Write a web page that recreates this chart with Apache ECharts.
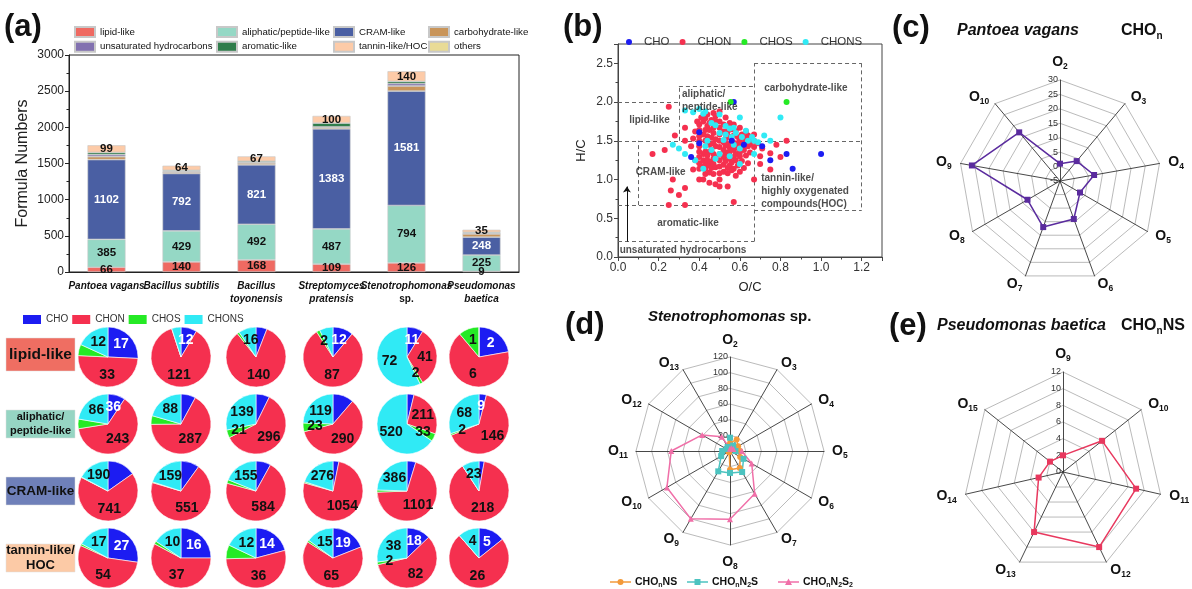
<!DOCTYPE html>
<html><head><meta charset="utf-8">
<script src="https://cdn.jsdelivr.net/npm/echarts@6/dist/echarts.min.js"></script>
<style>html,body{margin:0;padding:0;background:#fff}#c{width:1192px;height:589px}</style>
</head><body><div id="c"></div>
<script>
// ---------------- DATA ----------------
const categories = ['Pantoea vagans','Bacillus subtilis','Bacillus toyonensis','Streptomyces pratensis','Stenotrophomonas sp.','Pseudomonas baetica'];
const categoryLabels = ['{i|Pantoea vagans}','{i|Bacillus subtilis}','{i|Bacillus}\n{i|toyonensis}','{i|Streptomyces}\n{i|pratensis}','{i|Stenotrophomonas}\n{n|sp.}','{i|Pseudomonas}\n{i|baetica}'];
const lipid        = [66,140,168,109,126,9];
const aliphatic    = [385,429,492,487,794,225];
const cram         = [1102,792,821,1383,1581,248];
const carbohydrate = [40,20,25,20,70,45];
const others       = [5,3,5,4,4,2];
const unsaturated  = [25,10,6,5,30,8];
const aromatic     = [30,12,15,50,30,12];
const tannin       = [99,64,67,100,140,35];
const yTicks = {min:0, max:3000, interval:500};

const elementGroups = ['CHO','CHON','CHOS','CHONS'];
const pieRowNames = ['lipid-like','aliphatic/\npeptide-like','CRAM-like','tannin-like/\nHOC'];
const pieLipid     = [[17,33,4,12],[12,121,0,7],[10,140,2,16],[12,87,2,8],[11,41,2,72],[2,6,1,0]];
const pieAliphatic = [[36,243,20,86],[34,287,20,88],[36,296,21,139],[55,290,23,119],[30,211,33,520],[9,146,2,68]];
const pieCram      = [[168,741,3,190],[79,551,3,159],[66,584,16,155],[44,1054,9,276],[75,1101,19,386],[7,218,0,23]];
const pieTannin    = [[27,54,1,17],[16,37,1,10],[14,36,5,12],[19,65,1,15],[18,82,2,38],[5,26,0,4]];

// van Krevelen points [O/C, H/C]
const ptsCHO = [[0.57,2.0],[0.40,1.61],[0.40,1.47],[0.36,1.29],[0.71,1.43],[0.83,1.33],[0.75,1.25],[1.0,1.33],[0.86,1.14],[0.56,1.50],[0.62,1.45]];
const ptsCHOS = [[0.555,2.0],[0.83,2.0]];
const ptsCHONS = [[0.33,1.89],[0.37,1.87],[0.40,1.91],[0.42,1.85],[0.43,1.88],[0.46,1.73],[0.50,1.84],[0.48,1.70],[0.53,1.69],[0.55,1.66],[0.57,1.67],[0.58,1.60],[0.60,1.80],[0.61,1.55],[0.63,1.63],[0.64,1.50],[0.66,1.55],[0.67,1.50],[0.69,1.48],[0.72,1.57],[0.75,1.50],[0.80,1.80],[0.67,1.33],[0.60,1.20],[0.57,1.45],[0.53,1.58],[0.50,1.60],[0.52,1.51],[0.55,1.30],[0.50,1.33],[0.46,1.38],[0.43,1.43],[0.42,1.14],[0.38,1.25],[0.33,1.33],[0.30,1.40],[0.27,1.45],[0.44,1.50],[0.48,1.27],[0.60,1.40],[0.56,1.55]];
const ptsCHON = [[0.40,1.71],[0.40,1.64],[0.40,1.56],[0.40,1.50],[0.40,1.43],[0.40,1.36],[0.40,1.29],[0.40,1.21],[0.40,1.14],
[0.42,1.75],[0.42,1.58],[0.42,1.33],[0.42,1.25],[0.42,1.17],[0.43,1.79],[0.43,1.64],[0.43,1.50],[0.43,1.36],[0.43,1.21],[0.43,1.14],[0.43,1.07],
[0.44,1.69],[0.44,1.56],[0.44,1.31],[0.44,1.25],[0.45,1.73],[0.45,1.64],[0.45,1.45],[0.45,1.36],[0.45,1.18],[0.45,1.09],
[0.46,1.77],[0.46,1.54],[0.46,1.38],[0.46,1.23],[0.46,1.15],[0.47,1.67],[0.47,1.60],[0.47,1.47],[0.47,1.33],[0.47,1.27],[0.47,1.20],[0.47,1.07],
[0.48,1.76],[0.48,1.52],[0.48,1.43],[0.48,1.29],[0.48,1.16],[0.50,1.88],[0.50,1.75],[0.50,1.67],[0.50,1.58],[0.50,1.50],[0.50,1.42],[0.50,1.33],[0.50,1.25],[0.50,1.17],[0.50,1.08],[0.50,1.00],
[0.52,1.71],[0.52,1.62],[0.52,1.48],[0.52,1.38],[0.52,1.29],[0.52,1.19],[0.52,1.10],[0.53,1.80],[0.53,1.53],[0.53,1.44],[0.53,1.35],[0.53,1.24],
[0.54,1.69],[0.54,1.62],[0.54,1.46],[0.54,1.31],[0.54,1.15],[0.54,1.08],[0.55,1.73],[0.55,1.55],[0.55,1.41],[0.55,1.36],[0.55,1.27],[0.55,1.18],
[0.56,1.65],[0.56,1.50],[0.56,1.44],[0.56,1.22],[0.56,1.12],[0.57,1.71],[0.57,1.57],[0.57,1.38],[0.57,1.29],[0.57,1.14],[0.57,0.71],
[0.58,1.63],[0.58,1.47],[0.58,1.33],[0.58,1.25],[0.58,1.05],[0.59,1.55],[0.59,1.41],[0.59,1.18],[0.60,1.67],[0.60,1.50],[0.60,1.45],[0.60,1.35],[0.60,1.30],[0.60,1.10],
[0.61,1.58],[0.61,1.41],[0.61,1.24],[0.62,1.54],[0.62,1.47],[0.62,1.38],[0.62,1.15],[0.63,1.62],[0.63,1.50],[0.63,1.31],[0.64,1.57],[0.64,1.43],[0.64,1.21],
[0.65,1.53],[0.65,1.46],[0.65,1.35],[0.67,1.58],[0.67,1.50],[0.67,1.42],[0.67,1.00],[0.69,1.47],[0.70,1.30],[0.70,1.20],[0.71,1.40],[0.75,1.13],[0.75,1.34],[0.78,1.45],[0.80,1.29],[0.83,1.50],
[0.25,1.94],[0.17,1.33],[0.23,1.38],[0.28,1.57],[0.33,1.67],[0.33,1.50],[0.27,1.00],[0.26,0.86],[0.30,0.80],[0.33,0.89],[0.25,0.67],[0.33,0.67],[0.38,1.25],[0.37,1.13],[0.36,1.43],[0.38,1.62],[0.39,1.75],[0.37,1.53],[0.40,1.00],[0.42,1.00],[0.45,0.96],[0.48,0.94],[0.50,0.91],[0.54,0.91],[0.47,1.86],[0.44,1.84],[0.41,1.80],[0.48,1.82]];

// van Krevelen region boundaries (O/C, H/C)
const regionLines = [
 [[0,2.0],[0.3,2.0]],[[0.3,1.5],[0.3,2.2]],[[0.3,2.2],[0.67,2.2]],[[0.67,0.2],[0.67,2.5]],
 [[0.67,2.5],[1.2,2.5]],[[1.2,2.5],[1.2,0.6]],[[0.67,0.6],[1.2,0.6]],[[0,1.5],[1.2,1.5]],
 [[0.1,0.67],[0.1,1.5]],[[0,0.67],[0.67,0.67]],[[0,0.2],[0.67,0.2]]
];
const regionLabels = [
 {name:'lipid-like', value:[0.155,1.76], align:'center'},
 {name:'aliphatic/\npeptide-like', value:[0.315,2.02], align:'left'},
 {name:'carbohydrate-like', value:[0.925,2.18], align:'center'},
 {name:'CRAM-like', value:[0.21,1.10], align:'center'},
 {name:'tannin-like/\nhighly oxygenated\ncompounds(HOC)', value:[0.705,0.855], align:'left'},
 {name:'aromatic-like', value:[0.345,0.43], align:'center'},
 {name:'unsaturated hydrocarbons', value:[0.32,0.085], align:'center'}
];
const arrowLine = [[0.044,0.2],[0.044,0.91]];

const radarC_axes = ['O2','O3','O4','O5','O6','O7','O8','O9','O10'];
const radarC_CHOn = [1,4,7,3,9,12,8,26,17];
const radarD_axes = ['O2','O3','O4','O5','O6','O7','O8','O9','O10','O11','O12','O13'];
const radarD_CHOnNS   = [10,17,12,13,15,25,24,2,2,2,2,3];
const radarD_CHOnN2S  = [17,8,5,7,20,31,28,30,13,10,5,6];
const radarD_CHOnN2S2 = [3,4,5,15,32,63,87,100,93,75,41,21];
const radarE_axes = ['O9','O10','O11','O12','O13','O14','O15'];
const radarE_CHOnNS = [2,6,9,10,8,3,2];

// ---------------- STYLE ----------------
const FONT = '"Liberation Sans", Arial, sans-serif';
const barColors = {'lipid-like':'#EF6A62','aliphatic/peptide-like':'#95D8C5','CRAM-like':'#4A5FA3','carbohydrate-like':'#C9955A','others':'#E9DB96','unsaturated hydrocarbons':'#8271B0','aromatic-like':'#2F7D4B','tannin-like/HOC':'#FDCBA8'};
const grpColors = ['#1C1CF2','#F5304F','#25EA25','#30EAF5'];

const chart = echarts.init(document.getElementById('c'), null, {width:1192, height:589});

// bars
const barStack = [['lipid-like',lipid],['aliphatic/peptide-like',aliphatic],['CRAM-like',cram],['carbohydrate-like',carbohydrate],['others',others],['unsaturated hydrocarbons',unsaturated],['aromatic-like',aromatic],['tannin-like/HOC',tannin]];
const labelled = {'lipid-like':'#111','aliphatic/peptide-like':'#111','CRAM-like':'#fff','tannin-like/HOC':'#111'};
const series = [];
barStack.forEach(([name, vals]) => {
  series.push({
    type:'bar', name, data:vals, stack:'total', xAxisIndex:0, yAxisIndex:0, barWidth:38,
    itemStyle:{color:barColors[name], borderColor:'#c8c8c8', borderWidth:0.6},
    label: labelled[name] ? {show:true, position:'inside', fontSize:11.5, fontWeight:'bold', color:labelled[name], fontFamily:FONT} : {show:false},
    emphasis:{disabled:true}
  });
});

// scatter
const scatterDefs = [['CHON',ptsCHON,1],['CHONS',ptsCHONS,3],['CHO',ptsCHO,0],['CHOS',ptsCHOS,2]];
scatterDefs.forEach(([name, pts, ci]) => {
  series.push({type:'scatter', name, data:pts, xAxisIndex:1, yAxisIndex:1, symbolSize:6, itemStyle:{color:grpColors[ci], opacity:1}, emphasis:{disabled:true}, z:3});
});
series.push({type:'lines', coordinateSystem:'cartesian2d', xAxisIndex:1, yAxisIndex:1, silent:true, z:2,
  data: regionLines.map(c => ({coords:c})), lineStyle:{color:'#666', width:1, type:[4,3], opacity:1}, symbol:'none'});
series.push({type:'lines', coordinateSystem:'cartesian2d', xAxisIndex:1, yAxisIndex:1, silent:true, z:2,
  data:[{coords:arrowLine}], lineStyle:{color:'#111', width:1, opacity:1}, symbol:['none','arrow'], symbolSize:6});
series.push({type:'scatter', xAxisIndex:1, yAxisIndex:1, silent:true, symbolSize:1, itemStyle:{color:'rgba(0,0,0,0)'}, z:5,
  data: regionLabels.map(r => ({name:r.name, value:r.value, label:{align:r.align}})),
  label:{show:true, position:'inside', formatter:'{b}', fontSize:10, fontWeight:'bold', color:'#222', lineHeight:13, fontFamily:FONT}});

// pies
const pieColX = [108,181,256,333,407,479];
const pieRowY = [357,424,491,558];
[pieLipid, pieAliphatic, pieCram, pieTannin].forEach((rowData, r) => {
  rowData.forEach((vals, c) => {
    series.push({
      type:'pie', center:[pieColX[c], pieRowY[r]], radius:30, startAngle:90, clockwise:true, silent:true,
      avoidLabelOverlap:false, labelLine:{show:false},
      itemStyle:{borderColor:'#fff', borderWidth:0.6},
      label:{show:true, position:'inside', fontSize:14, fontWeight:'bold', fontFamily:FONT, formatter: p => p.value > 0 ? String(p.value) : ''},
      data: vals.map((v, i) => ({name:elementGroups[i], value:v, itemStyle:{color:grpColors[i]}, label:{color: i===0 ? '#fff' : '#111'}}))
    });
  });
});

// radars
function cw(arr){ return [arr[0]].concat(arr.slice(1).reverse()); }
function oName(n){ return '{o|O}{s|' + n.slice(1) + '}'; }
const nameRich = {o:{fontSize:14, fontWeight:'bold', color:'#111', lineHeight:18, fontFamily:FONT}, s:{fontSize:8.5, fontWeight:'bold', color:'#111', lineHeight:18, verticalAlign:'bottom', padding:[6,0,0,0], fontFamily:FONT}};
function radarCfg(axes, min, max, split, center, radius, gap){
  return {
    center, radius, startAngle:90, shape:'polygon', splitNumber:split,
    indicator: cw(axes).map((n, i) => i === 0 ? {name:n, min, max, axisLabel:{show:true}} : {name:n, min, max}),
    axisName:{formatter:(v) => oName(v), rich:nameRich, color:'#111'},
    nameGap:gap,
    splitArea:{show:false},
    splitLine:{lineStyle:{color:'#a8a8a8', width:0.8}},
    axisLine:{lineStyle:{color:'#333', width:0.9}},
    axisTick:{show:false},
    axisLabel:{show:false, fontSize:9, color:'#333', margin:2, fontFamily:FONT}
  };
}
const radars = [
  radarCfg(radarC_axes, -5, 30, 7, [1060,181], 101, 9),
  radarCfg(radarD_axes, 0, 120, 6, [730,451], 94, 8),
  radarCfg(radarE_axes, 0, 12, 6, [1063,472], 100, 9)
];
function radarSeries(idx, name, vals, color, symbol){
  series.push({type:'radar', radarIndex:idx, silent:true, symbol, symbolSize:6,
    lineStyle:{color, width:1.5}, itemStyle:{color},
    data:[{name, value:cw(vals)}]});
}
radarSeries(0, 'CHOn', radarC_CHOn, '#5A2B9E', 'rect');
radarSeries(1, 'CHOnNS', radarD_CHOnNS, '#F39A3A', 'circle');
radarSeries(1, 'CHOnN2S', radarD_CHOnN2S, '#4CC3C0', 'rect');
radarSeries(1, 'CHOnN2S2', radarD_CHOnN2S2, '#F06FA8', 'triangle');
radarSeries(2, 'CHOnNS-e', radarE_CHOnNS, '#E8385E', 'rect');

// legends
const barLegendBase = {orient:'vertical', itemWidth:20, itemHeight:10, itemGap:2.7, selectedMode:false, textStyle:{fontSize:9.7, color:'#111', fontFamily:FONT}, icon:'rect', top:21};
const legends = [
  Object.assign({}, barLegendBase, {left:69, data:['lipid-like','unsaturated hydrocarbons']}),
  Object.assign({}, barLegendBase, {left:211, data:['aliphatic/peptide-like','aromatic-like']}),
  Object.assign({}, barLegendBase, {left:328, data:['CRAM-like','tannin-like/HOC']}),
  Object.assign({}, barLegendBase, {left:423, data:['carbohydrate-like','others']}),
  {left:18, top:309.5, itemWidth:18, itemHeight:9, itemGap:4, icon:'rect', selectedMode:false, textStyle:{fontSize:10, color:'#333', fontFamily:FONT}, data:elementGroups},
  {left:621, top:31, itemWidth:20, itemHeight:6, itemGap:10, icon:'circle', selectedMode:false, textStyle:{fontSize:11.5, color:'#333', fontFamily:FONT}, data:elementGroups}
];

// graphics
const graphic = [];
function txt(x, y, text, opts){
  graphic.push({type:'text', x, y, silent:true, style:Object.assign({text, fill:'#111', fontFamily:FONT, textAlign:'left', textVerticalAlign:'middle', align:'left', verticalAlign:'middle'}, opts||{})});
}
txt(4, 27, '(a)', {fontSize:31, fontWeight:'bold'});
txt(563, 27, '(b)', {fontSize:31, fontWeight:'bold'});
txt(892, 28, '(c)', {fontSize:31, fontWeight:'bold'});
txt(565, 325, '(d)', {fontSize:31, fontWeight:'bold'});
txt(889, 326, '(e)', {fontSize:31, fontWeight:'bold'});
const titleRich = {i:{fontSize:16, fontWeight:'bold', fontStyle:'italic', fill:'#111', color:'#111', fontFamily:FONT, lineHeight:20},
  b:{fontSize:16, fontWeight:'bold', color:'#111', fontFamily:FONT, lineHeight:20},
  s:{fontSize:10, fontWeight:'bold', color:'#111', fontFamily:FONT, lineHeight:20, verticalAlign:'bottom', padding:[7,0,0,0]}};
txt(957, 31, '{i|Pantoea vagans}', {rich:titleRich});
txt(1121, 31, '{b|CHO}{s|n}', {rich:titleRich});
txt(648, 317, '{i|Stenotrophomonas}{b| sp.}', {rich:Object.assign({}, titleRich, {i:Object.assign({}, titleRich.i, {fontSize:15}), b:Object.assign({}, titleRich.b, {fontSize:15})})});
txt(937, 326, '{i|Pseudomonas baetica}', {rich:titleRich});
txt(1121, 326, '{b|CHO}{s|n}{b|NS}', {rich:titleRich});

// pie row label boxes
const rowBoxes = [
  {y:338, h:33, color:'#EF6E62', fs:15.5, lh:18},
  {y:410, h:28, color:'#96D5C3', fs:11, lh:13.5},
  {y:477, h:28, color:'#6F80B9', fs:13.5, lh:16},
  {y:544, h:28, color:'#FCCAA6', fs:13, lh:15.5}
];
rowBoxes.forEach((b, i) => {
  graphic.push({type:'rect', silent:true, shape:{x:6, y:b.y, width:69, height:b.h}, style:{fill:b.color, stroke:'#ddd', lineWidth:0.5}});
  graphic.push({type:'text', silent:true, x:40.5, y:b.y + b.h/2, style:{text:pieRowNames[i], fill:'#111', fontFamily:FONT, fontSize:b.fs, fontWeight:'bold', lineHeight:b.lh, textAlign:'center', align:'center', textVerticalAlign:'middle', verticalAlign:'middle'}});
});

// legend for (d)
const dLeg = [
  {x:610, color:'#F39A3A', kind:'circle', text:'{a|CHO}{s|n}{a|NS}'},
  {x:687, color:'#4CC3C0', kind:'rect', text:'{a|CHO}{s|n}{a|N}{s|2}{a|S}'},
  {x:778, color:'#F06FA8', kind:'tri', text:'{a|CHO}{s|n}{a|N}{s|2}{a|S}{s|2}'}
];
const legRich = {a:{fontSize:10.5, fontWeight:'bold', color:'#111', fontFamily:FONT, lineHeight:14}, s:{fontSize:7, fontWeight:'bold', color:'#111', fontFamily:FONT, lineHeight:14, verticalAlign:'bottom', padding:[5,0,0,0]}};
const legY = 582;
dLeg.forEach(d => {
  graphic.push({type:'line', silent:true, shape:{x1:d.x, y1:legY, x2:d.x+21, y2:legY}, style:{stroke:d.color, lineWidth:1.5}});
  const cx = d.x + 10.5;
  if (d.kind === 'circle') graphic.push({type:'circle', silent:true, shape:{cx, cy:legY, r:3}, style:{fill:d.color}});
  else if (d.kind === 'rect') graphic.push({type:'rect', silent:true, shape:{x:cx-3, y:legY-3, width:6, height:6}, style:{fill:d.color}});
  else graphic.push({type:'polygon', silent:true, shape:{points:[[cx, legY-3.5],[cx-3.5, legY+3],[cx+3.5, legY+3]]}, style:{fill:d.color}});
  txt(d.x + 25, legY, d.text, {rich:legRich});
});

const option = {
  animation:false,
  textStyle:{fontFamily:FONT},
  legend:legends,
  grid:[
    {left:69, top:55, width:450, height:217, show:true, borderColor:'#222', borderWidth:1, backgroundColor:'transparent'},
    {left:618, top:44, width:264, height:213, show:true, borderColor:'#444', borderWidth:1, backgroundColor:'transparent'}
  ],
  xAxis:[
    {gridIndex:0, type:'category', data:categories,
     axisLine:{lineStyle:{color:'#222'}}, axisTick:{alignWithLabel:true, length:5, lineStyle:{color:'#222'}},
     axisLabel:{interval:0, margin:8, formatter:(v, i) => categoryLabels[i],
       rich:{i:{fontSize:10, fontWeight:'bold', fontStyle:'italic', color:'#111', lineHeight:13, fontFamily:FONT}, n:{fontSize:10, fontWeight:'bold', color:'#111', lineHeight:13, fontFamily:FONT}}}},
    {gridIndex:1, type:'value', min:0, max:1.3, interval:0.2, name:'O/C', nameLocation:'middle', nameGap:24,
     nameTextStyle:{fontSize:13, color:'#222'},
     axisLine:{lineStyle:{color:'#444'}}, axisTick:{length:4, lineStyle:{color:'#444'}},
     minorTick:{show:true, splitNumber:2, length:2.5, lineStyle:{color:'#444'}},
     splitLine:{show:false},
     axisLabel:{fontSize:12, color:'#333', showMaxLabel:false, margin:5, formatter:v => v.toFixed(1)}}
  ],
  yAxis:[
    {gridIndex:0, type:'value', min:yTicks.min, max:yTicks.max, interval:yTicks.interval, name:'Formula Numbers', nameLocation:'middle', nameGap:38,
     nameTextStyle:{fontSize:16, color:'#222'},
     axisLine:{show:true, lineStyle:{color:'#222'}}, axisTick:{show:true, length:4, lineStyle:{color:'#222'}},
     minorTick:{show:true, splitNumber:2, length:2.5, lineStyle:{color:'#222'}},
     splitLine:{show:false}, axisLabel:{fontSize:12, color:'#222', margin:5, formatter:v => String(v)}},
    {gridIndex:1, type:'value', min:0, max:2.75, interval:0.5, name:'H/C', nameLocation:'middle', nameGap:30,
     nameTextStyle:{fontSize:13, color:'#222'},
     axisLine:{show:true, lineStyle:{color:'#444'}}, axisTick:{show:true, length:4, lineStyle:{color:'#444'}},
     minorTick:{show:true, splitNumber:2, length:2.5, lineStyle:{color:'#444'}},
     splitLine:{show:false}, axisLabel:{fontSize:12, color:'#333', showMaxLabel:false, margin:5, formatter:v => v.toFixed(1)}}
  ],
  radar:radars,
  series,
  graphic
};
chart.setOption(option);
</script></body></html>
